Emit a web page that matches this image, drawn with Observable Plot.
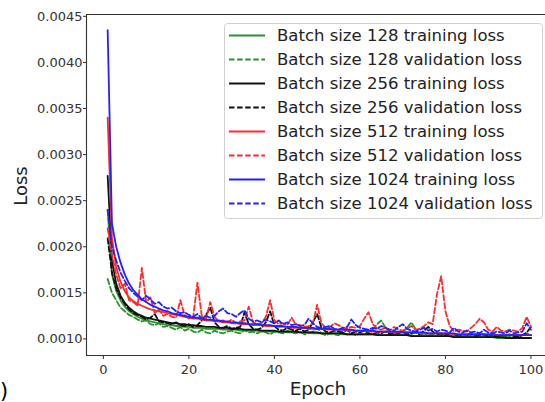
<!DOCTYPE html>
<html>
<head>
<meta charset="utf-8">
<script src="https://cdn.jsdelivr.net/npm/d3@7"></script>
<script src="https://cdn.jsdelivr.net/npm/@observablehq/plot@0.6"></script>
<style>
  html, body { margin: 0; padding: 0; background: #fff; overflow: hidden; }
  #chart { width: 545px; height: 402px; }
</style>
</head>
<body>
<div id="chart"></div>
<script>
const epochs = d3.range(1, 101);

const g128Train = [
  .00240,.00170,.00152,.00142,.00135,.00130,.00127,.00124,.00122,.00120,
  .00119,.00118,.00117,.00116,.00115,.00115,.00114,.00114,.00113,.00113,
  .00112,.00112,.00112,.00111,.00111,.00111,.00111,.00110,.00110,.00110,
  .00110,.00109,.00109,.00109,.00109,.00109,.00108,.00108,.00108,.00108,
  .00108,.00108,.00107,.00107,.00107,.00107,.00107,.00107,.00106,.00106,
  .00106,.00106,.00106,.00106,.00106,.00105,.00105,.00105,.00105,.00105,
  .00105,.00105,.00105,.00105,.00104,.00104,.00104,.00104,.00104,.00104,
  .00104,.00104,.00103,.00103,.00103,.00103,.00103,.00103,.00103,.00103,
  .00103,.00102,.00102,.00102,.00102,.00102,.00102,.00102,.00102,.00102,
  .00102,.00101,.00101,.00101,.00101,.00101,.00101,.00101,.00101,.00101];
const g128Val = [
  .00165,.00150,.00142,.00134,.00130,.00126,.00124,.00121,.00119,.00120,
  .00116,.00115,.00117,.00113,.00114,.00112,.00110,.00113,.00109,.00111,
  .00108,.00107,.00110,.00107,.00106,.00109,.00107,.00106,.00108,.00109,
  .00107,.00106,.00110,.00107,.00108,.00106,.00109,.00107,.00105,.00108,
  .00107,.00106,.00109,.00107,.00106,.00108,.00105,.00106,.00108,.00112,
  .00106,.00104,.00106,.00105,.00104,.00107,.00105,.00106,.00104,.00106,
  .00105,.00107,.00110,.00116,.00120,.00112,.00106,.00105,.00107,.00107,
  .00112,.00118,.00111,.00104,.00106,.00104,.00105,.00107,.00104,.00106,
  .00103,.00105,.00104,.00102,.00104,.00103,.00105,.00106,.00104,.00102,
  .00108,.00103,.00104,.00102,.00103,.00105,.00103,.00104,.00106,.00104];
const k256Train = [
  .00277,.00185,.00160,.00147,.00139,.00134,.00130,.00127,.00125,.00123,
  .00122,.00121,.00120,.00119,.00118,.00117,.00117,.00116,.00116,.00115,
  .00115,.00114,.00114,.00113,.00113,.00113,.00112,.00112,.00112,.00111,
  .00111,.00111,.00110,.00110,.00110,.00110,.00109,.00109,.00109,.00109,
  .00108,.00108,.00108,.00108,.00108,.00107,.00107,.00107,.00107,.00107,
  .00106,.00106,.00106,.00106,.00106,.00106,.00105,.00105,.00105,.00105,
  .00105,.00105,.00105,.00104,.00104,.00104,.00104,.00104,.00104,.00104,
  .00104,.00103,.00103,.00103,.00103,.00103,.00103,.00103,.00103,.00103,
  .00103,.00102,.00102,.00102,.00102,.00102,.00102,.00102,.00102,.00102,
  .00102,.00102,.00102,.00101,.00101,.00101,.00101,.00101,.00101,.00101];
const k256Val = [
  .00209,.00172,.00155,.00145,.00138,.00132,.00128,.00126,.00124,.00121,
  .00123,.00127,.00119,.00118,.00117,.00116,.00118,.00115,.00114,.00116,
  .00113,.00115,.00120,.00126,.00134,.00118,.00113,.00112,.00114,.00111,
  .00112,.00113,.00129,.00116,.00111,.00110,.00112,.00118,.00130,.00114,
  .00110,.00109,.00112,.00110,.00109,.00111,.00108,.00110,.00118,.00127,
  .00112,.00108,.00107,.00109,.00108,.00107,.00110,.00106,.00108,.00107,
  .00109,.00106,.00105,.00107,.00106,.00108,.00105,.00107,.00106,.00108,
  .00105,.00106,.00107,.00105,.00109,.00113,.00108,.00105,.00106,.00104,
  .00106,.00105,.00103,.00105,.00104,.00106,.00103,.00104,.00105,.00103,
  .00104,.00102,.00104,.00103,.00105,.00103,.00102,.00104,.00107,.00113];
const r512Train = [
  .00340,.00210,.00178,.00162,.00152,.00145,.00141,.00138,.00136,.00134,
  .00132,.00131,.00130,.00129,.00128,.00127,.00126,.00125,.00124,.00123,
  .00122,.00122,.00121,.00120,.00120,.00119,.00119,.00118,.00118,.00117,
  .00117,.00116,.00116,.00116,.00115,.00115,.00115,.00114,.00114,.00114,
  .00113,.00113,.00113,.00112,.00112,.00112,.00112,.00111,.00111,.00111,
  .00111,.00110,.00110,.00110,.00110,.00110,.00109,.00109,.00109,.00109,
  .00109,.00108,.00108,.00108,.00108,.00108,.00108,.00107,.00107,.00107,
  .00107,.00107,.00107,.00106,.00106,.00106,.00106,.00106,.00106,.00106,
  .00106,.00105,.00105,.00105,.00105,.00105,.00105,.00105,.00105,.00105,
  .00105,.00104,.00104,.00104,.00104,.00104,.00104,.00104,.00104,.00104];
const r512Val = [
  .00220,.00192,.00170,.00155,.00160,.00142,.00140,.00136,.00177,.00140,
  .00145,.00128,.00132,.00125,.00127,.00124,.00123,.00142,.00126,.00122,
  .00124,.00161,.00125,.00122,.00140,.00124,.00119,.00120,.00118,.00121,
  .00117,.00119,.00120,.00135,.00118,.00116,.00117,.00124,.00142,.00120,
  .00116,.00117,.00115,.00123,.00116,.00115,.00113,.00114,.00117,.00137,
  .00117,.00112,.00113,.00117,.00115,.00112,.00111,.00113,.00112,.00114,
  .00122,.00129,.00116,.00111,.00110,.00112,.00109,.00113,.00110,.00109,
  .00111,.00114,.00110,.00111,.00114,.00118,.00116,.00148,.00168,.00130,
  .00114,.00108,.00110,.00109,.00108,.00112,.00116,.00122,.00118,.00110,
  .00108,.00113,.00109,.00108,.00110,.00109,.00108,.00112,.00124,.00113];
const b1024Train = [
  .00435,.00225,.00200,.00183,.00170,.00160,.00153,.00148,.00143,.00140,
  .00137,.00135,.00133,.00131,.00130,.00128,.00127,.00126,.00125,.00124,
  .00123,.00123,.00122,.00121,.00121,.00120,.00120,.00119,.00119,.00118,
  .00118,.00117,.00117,.00116,.00116,.00116,.00115,.00115,.00115,.00114,
  .00114,.00114,.00113,.00113,.00113,.00112,.00112,.00112,.00112,.00111,
  .00111,.00111,.00111,.00110,.00110,.00110,.00110,.00110,.00109,.00109,
  .00109,.00109,.00109,.00108,.00108,.00108,.00108,.00108,.00108,.00107,
  .00107,.00107,.00107,.00107,.00107,.00106,.00106,.00106,.00106,.00106,
  .00106,.00106,.00105,.00105,.00105,.00105,.00105,.00105,.00105,.00105,
  .00104,.00104,.00104,.00104,.00104,.00104,.00104,.00104,.00104,.00104];
const b1024Val = [
  .00240,.00200,.00185,.00172,.00163,.00155,.00150,.00146,.00142,.00147,
  .00143,.00138,.00140,.00135,.00133,.00134,.00130,.00128,.00129,.00126,
  .00124,.00127,.00122,.00125,.00123,.00125,.00130,.00133,.00128,.00127,
  .00124,.00128,.00131,.00122,.00119,.00120,.00118,.00121,.00119,.00117,
  .00120,.00116,.00118,.00115,.00116,.00114,.00115,.00122,.00117,.00113,
  .00112,.00113,.00114,.00111,.00110,.00112,.00113,.00121,.00115,.00112,
  .00111,.00110,.00112,.00111,.00114,.00112,.00110,.00109,.00113,.00116,
  .00111,.00109,.00108,.00110,.00112,.00109,.00111,.00108,.00110,.00109,
  .00107,.00112,.00108,.00107,.00109,.00107,.00108,.00106,.00110,.00107,
  .00106,.00108,.00107,.00106,.00109,.00106,.00107,.00108,.00117,.00110];

const seriesNames = [
  "Batch size 128 training loss", "Batch size 128 validation loss",
  "Batch size 256 training loss", "Batch size 256 validation loss",
  "Batch size 512 training loss", "Batch size 512 validation loss",
  "Batch size 1024 training loss", "Batch size 1024 validation loss"];
const seriesValues = [g128Train, g128Val, k256Train, k256Val, r512Train, r512Val, b1024Train, b1024Val];
const seriesColors = ["#2a922a", "#2a922a", "#111111", "#111111", "#ff2a2a", "#ff2a2a", "#2222ff", "#2222ff"];
const seriesDashed = [false, true, false, true, false, true, false, true];

const yTicks = [0.0010, 0.0015, 0.0020, 0.0025, 0.0030, 0.0035, 0.0040, 0.0045];
const xTicks = [0, 20, 40, 60, 80, 100];
const xDomain = [-3.95, 103.4];
const yDomain = [0.00082, 0.00452];

const FONT = "DejaVu Sans, sans-serif";
const W = 545, H = 402;
const mL = 86, mR = 0, mT = 14, mB = 47;

const lineMarks = seriesValues.map((vals, i) =>
  Plot.line(epochs.map((e, j) => ({epoch: e, loss: vals[j]})), {
    x: "epoch", y: "loss",
    stroke: seriesColors[i],
    strokeWidth: 1.8,
    strokeDasharray: seriesDashed[i] ? "5.5,2.6" : null,
    strokeLinejoin: "round",
    clip: true
  })
);

const chart = Plot.plot({
  width: W, height: H,
  marginLeft: mL, marginRight: mR, marginTop: mT, marginBottom: mB,
  style: {fontFamily: FONT, fontSize: "13px", color: "#333", background: "#fff"},
  x: {domain: xDomain, ticks: xTicks, tickFormat: d => String(d), label: null, tickSize: 4, tickPadding: 5},
  y: {domain: yDomain, ticks: yTicks, tickFormat: d3.format(".4f"), label: null, tickSize: 3, tickPadding: 1},
  marks: [
    ...lineMarks,
    Plot.ruleX([xDomain[0]], {stroke: "#333", strokeWidth: 1.1}),
    Plot.ruleY([yDomain[0], yDomain[1]], {stroke: "#333", strokeWidth: 1.1}),
    Plot.axisX({ticks: xTicks, tickFormat: d => String(d), tickSize: 4, tickPadding: 5, label: null, fill: "#333", stroke: "#333", fontSize: 13}),
    Plot.axisY({ticks: yTicks, tickFormat: d3.format(".4f"), tickSize: 3, tickPadding: 1, label: null, fill: "#333", stroke: "#333", fontSize: 13})
  ]
});
document.getElementById("chart").appendChild(chart);

const svg = d3.select(chart);

// Axis labels
svg.append("text")
  .attr("x", 318).attr("y", 395)
  .attr("text-anchor", "middle")
  .attr("font-family", FONT).attr("font-size", 18.5).attr("fill", "#222")
  .text("Epoch");
svg.append("text")
  .attr("transform", "translate(27,186) rotate(-90)")
  .attr("text-anchor", "middle")
  .attr("font-family", FONT).attr("font-size", 18).attr("fill", "#222")
  .text("Loss");
svg.append("text")
  .attr("x", 0).attr("y", 398)
  .attr("text-anchor", "start")
  .attr("font-family", FONT).attr("font-size", 21).attr("fill", "#000")
  .text(")");

// Legend
const lg = svg.append("g");
lg.append("rect")
  .attr("x", 224.5).attr("y", 23.5).attr("width", 318).attr("height", 195)
  .attr("rx", 3).attr("fill", "#fff").attr("fill-opacity", 0.85)
  .attr("stroke", "#d0d0d0").attr("stroke-width", 1);
seriesNames.forEach((name, i) => {
  const cy = 35.5 + i * 24;
  lg.append("line")
    .attr("x1", 229).attr("x2", 265).attr("y1", cy).attr("y2", cy)
    .attr("stroke", seriesColors[i]).attr("stroke-width", 1.8)
    .attr("stroke-dasharray", seriesDashed[i] ? "5.5,2.6" : null);
  lg.append("text")
    .attr("x", 277).attr("y", cy).attr("dy", "0.36em")
    .attr("text-anchor", "start")
    .attr("font-family", FONT).attr("font-size", 16.5).attr("fill", "#222")
    .text(name);
});
</script>
</body>
</html>
